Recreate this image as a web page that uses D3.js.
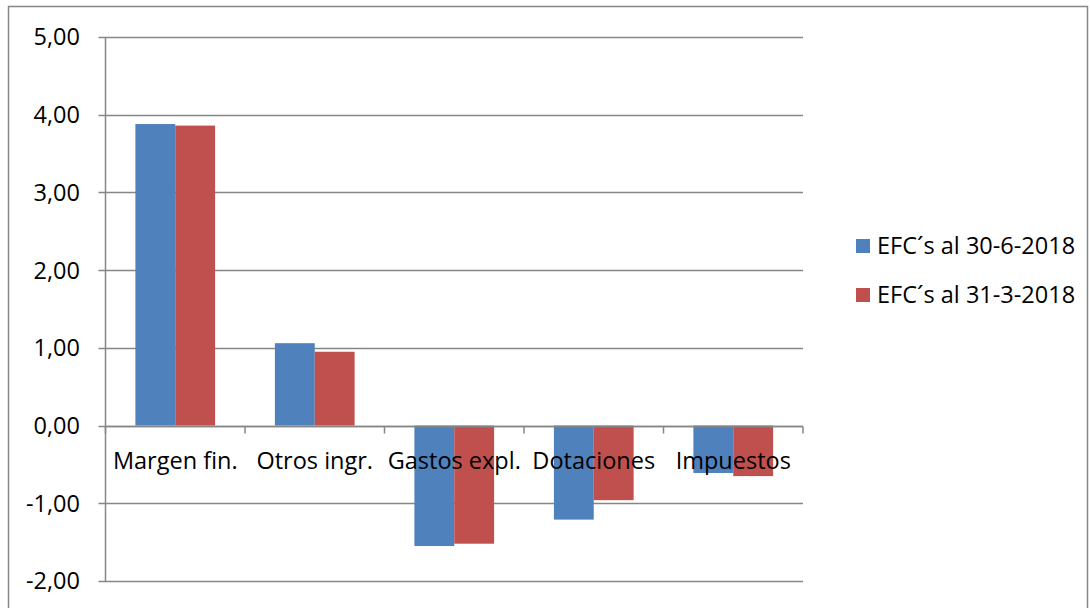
<!DOCTYPE html>
<html><head><meta charset="utf-8">
<script src="https://cdn.jsdelivr.net/npm/d3@7"></script>
<style>body{margin:0;background:#fff}svg{display:block}text{font-family:"Open Sans",Lato,sans-serif;fill:#000}</style>
</head><body><svg id="c" width="1091" height="608"></svg>
<script>
const categories = ["Margen fin.", "Otros ingr.", "Gastos expl.", "Dotaciones", "Impuestos"];
const seriesNames = ["EFC´s al 30-6-2018", "EFC´s al 31-3-2018"];
const series1 = [3.88, 1.06, -1.55, -1.21, -0.61];
const series2 = [3.86, 0.95, -1.52, -0.96, -0.65];
const yTicks = [5, 4, 3, 2, 1, 0, -1, -2];
const colors = ["#4F81BD", "#C0504D"];

const svg = d3.select("#c");
svg.append("rect").attr("x", 8.5).attr("y", 6.5).attr("width", 1079).attr("height", 620)
  .attr("fill", "none").attr("stroke", "#868686").attr("stroke-width", 1.5);

const L = 105.5, R = 803, T = 37, B = 581;
const y = d3.scaleLinear().domain([-2, 5]).range([B, T]);
const band = (R - L) / categories.length;
const x = d3.scaleBand().domain(categories).range([L, R]).padding(0);
const x1 = d3.scaleBand().domain([0, 1]).range([0, band * 80 / 140]);
const fmt = d => d3.format(".2f")(d).replace(".", ",").replace("\u2212", "-");
const FS = 23.5;

const g = svg.append("g");
g.selectAll("line.grid").data(yTicks).join("line")
  .attr("x1", L - 7).attr("x2", R).attr("y1", d => Math.round(y(d)) + 0.5).attr("y2", d => Math.round(y(d)) + 0.5)
  .attr("stroke", "#868686").attr("stroke-width", 1.5);
g.append("line").attr("x1", L).attr("x2", L).attr("y1", T).attr("y2", B).attr("stroke", "#868686").attr("stroke-width", 1.5);
g.selectAll("text.yl").data(yTicks).join("text")
  .attr("x", 80).attr("y", d => y(d)).attr("dy", "0.36em").attr("text-anchor", "end")
  .attr("font-size", FS).text(fmt);

const data = [series1, series2];
data.forEach((vals, si) => {
  g.selectAll("rect.s" + si).data(vals).join("rect")
    .attr("x", (d, i) => x(categories[i]) + band * 30 / 140 + x1(si))
    .attr("width", x1.bandwidth())
    .attr("y", d => y(Math.max(0, d)))
    .attr("height", d => Math.abs(y(d) - y(0)))
    .attr("fill", colors[si]);
});

const y0 = Math.round(y(0)) + 0.5;
g.append("line").attr("x1", L).attr("x2", R).attr("y1", y0).attr("y2", y0).attr("stroke", "#868686").attr("stroke-width", 1.5);
g.selectAll("line.xt").data(d3.range(categories.length + 1)).join("line")
  .attr("x1", i => L + i * band).attr("x2", i => L + i * band).attr("y1", y0).attr("y2", y0 + 7)
  .attr("stroke", "#868686").attr("stroke-width", 1.5);
g.selectAll("text.xl").data(categories).join("text")
  .attr("x", d => x(d) + band / 2).attr("y", 461).attr("dy", "0.36em").attr("text-anchor", "middle")
  .attr("font-size", FS).text(d => d);

seriesNames.forEach((n, i) => {
  const ly = 246 + i * 49;
  svg.append("rect").attr("x", 856).attr("y", ly - 7).attr("width", 14).attr("height", 14).attr("fill", colors[i]);
  svg.append("text").attr("x", 877).attr("y", ly).attr("dy", "0.36em").attr("font-size", FS).text(n);
});
</script></body></html>
